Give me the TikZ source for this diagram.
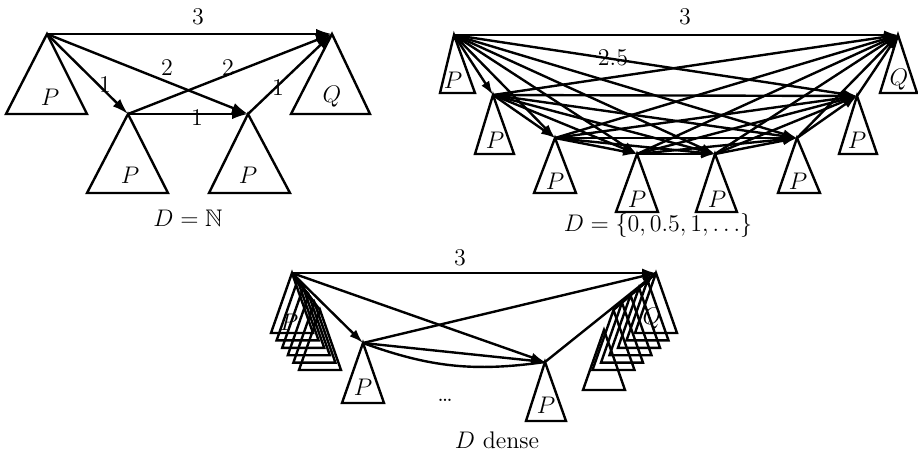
\documentclass[tikz,border=0pt]{standalone}
\usepackage{amssymb}
\usetikzlibrary{arrows.meta}
\tikzset{
  edge/.style={line width=1.2pt, -{Latex[length=7pt,width=4.6pt]}},
  bigedge/.style={line width=1.2pt, -{Latex[length=8pt,width=5.2pt]}},
  plainedge/.style={line width=1.2pt},
  tri/.style={line width=1.2pt, line join=miter},
  lbl/.style={font=\fontsize{12}{14}\selectfont, inner sep=0pt},
}
\begin{document}
\begin{tikzpicture}[x=0.5pt,y=-0.5pt]
\useasboundingbox (0,0) rectangle (918,462);
%% ---------------- Diagram 1 ----------------
\coordinate (a1) at (47,34);
\coordinate (b1) at (128,114);
\coordinate (c1) at (248,114);
\coordinate (q1) at (332,34);
\draw[tri] (a1) -- (6,114) -- (87,114) -- cycle;
\draw[tri] (b1) -- (87,193) -- (168,193) -- cycle;
\draw[tri] (c1) -- (209,193) -- (290,193) -- cycle;
\draw[tri] (q1) -- (291,114) -- (370,114) -- cycle;
\node[lbl] (pa1) at (50,97) {$P$};
\node[lbl] (pb1) at (130,175) {$P$};
\node[lbl] (pc1) at (248,175) {$P$};
\node[lbl] (pq1) at (332,97) {$Q$};
\draw[bigedge] (a1) -- (q1);
\draw[bigedge] (a1) -- (b1);
\draw[bigedge] (a1) -- (c1);
\draw[bigedge] (b1) -- (q1);
\draw[bigedge] (b1) -- (c1);
\draw[bigedge] (c1) -- (q1);
\node[lbl] (w1) at (198,17) {3};
\node[lbl] (w2) at (105,85) {1};
\node[lbl] (w3) at (167,68) {2};
\node[lbl] (w4) at (228,68) {2};
\node[lbl] (w5) at (197,118) {1};
\node[lbl] (w6) at (278,88) {1};
\node[lbl] (cap1) at (188,218) {$D=\mathbb{N}$};
%% ---------------- Diagram 2 ----------------
\coordinate (d0) at (454,35);
\coordinate (d1) at (493,95);
\coordinate (d2) at (555,138);
\coordinate (d3) at (637,154);
\coordinate (d4) at (715,154);
\coordinate (d5) at (797,138);
\coordinate (d6) at (857,96);
\coordinate (d7) at (898,35);
\draw[tri] (d0) -- (440,93) -- (475,93) -- cycle;
\draw[tri] (d1) -- (475,154) -- (514,154) -- cycle;
\draw[tri] (d2) -- (534,193) -- (576,193) -- cycle;
\draw[tri] (d3) -- (616,212) -- (658,212) -- cycle;
\draw[tri] (d4) -- (696,212) -- (737,212) -- cycle;
\draw[tri] (d5) -- (778,193) -- (820,193) -- cycle;
\draw[tri] (d6) -- (839,154) -- (877,154) -- cycle;
\draw[tri] (d7) -- (880,93) -- (917,93) -- cycle;
\node[lbl] (p20) at (453,80) {$P$};
\node[lbl] (p21) at (495,140) {$P$};
\node[lbl] (p22) at (555,181) {$P$};
\node[lbl] (p23) at (637,199) {$P$};
\node[lbl] (p24) at (717,199) {$P$};
\node[lbl] (p25) at (798,181) {$P$};
\node[lbl] (p26) at (857,140) {$P$};
\node[lbl] (p27) at (899,80) {$Q$};
\foreach \i in {0,...,6}{
  \pgfmathtruncatemacro\jstart{\i+1}
  \foreach \j in {\jstart,...,7}{
    \draw[edge] (d\i) -- (d\j);
  }
}
\node[lbl] (w21) at (685,17) {3};
\node[lbl] (w22) at (613,58) {2.5};
\node[lbl] (cap2) at (658,225) {$D=\{0,0.5,1,\ldots\}$};
%% ---------------- Diagram 3 ----------------
\coordinate (a3) at (292,273);
\coordinate (q3) at (656,273);
\coordinate (b3) at (363,343);
\coordinate (c3) at (545,362);
% left stack
\foreach \k in {0,...,5}{
  \coordinate (ls\k) at ({292+5.6*\k},{273+7.4*\k});
  \draw[tri] (ls\k) -- ++(-21,60) -- ++(42,0) -- cycle;
}
\foreach \k in {1,...,5}{ \draw[plainedge] (a3) -- (ls\k); }
\node[lbl] (p3a) at (289,322) {$P$};
% right stack
\foreach \k in {0,...,5}{
  \coordinate (rs\k) at ({656-8.5*\k},{273+7.4*\k});
  \draw[tri] (rs\k) -- ++(-21,60) -- ++(42,0) -- cycle;
}
\foreach \k in {1,...,5}{ \draw[plainedge] (q3) -- (rs\k); }
\node[lbl] (p3q) at (652,319) {$Q$};
\coordinate (lone) at (604,330);
\draw[tri] (lone) -- (583,390) -- (625,390) -- cycle;
% middle nodes
\draw[tri] (b3) -- (342,403) -- (384,403) -- cycle;
\draw[tri] (c3) -- (526,421) -- (566,421) -- cycle;
\node[lbl] (p3b) at (363,387) {$P$};
\node[lbl] (p3c) at (546,405) {$P$};
\draw[edge] (a3) -- (q3);
\draw[edge] (a3) -- (b3);
\draw[edge] (a3) -- (c3);
\draw[edge] (b3) -- (q3);
\draw[edge] (b3) -- (c3);
\draw[plainedge] (b3) to[bend right=14] (c3);
\draw[edge] (c3) -- (q3);
\node[lbl] (w31) at (460,258) {3};
\node[lbl] (dots) at (445,400) {\dots};
\node[lbl] (cap3) at (497,440) {$D$ dense};
\end{tikzpicture}
\end{document}
